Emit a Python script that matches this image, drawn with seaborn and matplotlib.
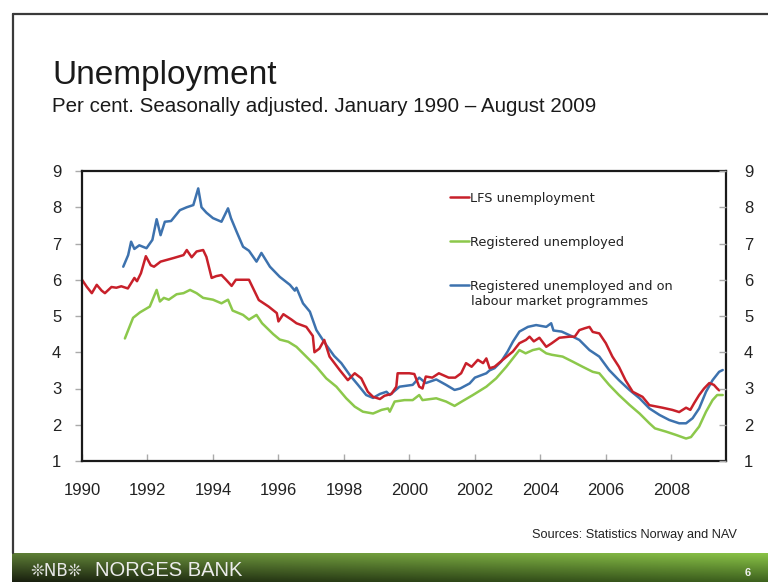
import numpy as np
import pandas as pd
import matplotlib
matplotlib.use("Agg")
import matplotlib.pyplot as plt
from matplotlib.lines import Line2D
import seaborn as sns

# Series (decimal year, per cent)
lfs_years = [1990.00, 1990.15, 1990.30, 1990.45, 1990.60, 1990.70, 1990.90, 1991.05, 1991.20, 1991.40,
             1991.60, 1991.68, 1991.80, 1991.95, 1992.10, 1992.20, 1992.40, 1992.60, 1992.80, 1993.10,
             1993.20, 1993.35, 1993.50, 1993.70, 1993.80, 1993.96, 1994.10, 1994.26, 1994.40, 1994.57,
             1994.70, 1995.00, 1995.10, 1995.40, 1995.70, 1995.95, 1996.00, 1996.15, 1996.40, 1996.55,
             1996.85, 1997.05, 1997.10, 1997.25, 1997.40, 1997.56, 1997.87, 1998.12, 1998.33, 1998.53,
             1998.73, 1998.89, 1999.10, 1999.24, 1999.45, 1999.60, 1999.64, 2000.00, 2000.15, 2000.30,
             2000.40, 2000.50, 2000.70, 2000.90, 2001.20, 2001.40, 2001.58, 2001.73, 2001.90, 2002.09,
             2002.25, 2002.35, 2002.45, 2002.60, 2002.85, 2003.16, 2003.36, 2003.56, 2003.67, 2003.80,
             2003.97, 2004.18, 2004.35, 2004.58, 2004.89, 2005.05, 2005.19, 2005.35, 2005.50, 2005.60,
             2005.80, 2006.00, 2006.20, 2006.40, 2006.60, 2006.82, 2007.12, 2007.33, 2007.73, 2008.03,
             2008.24, 2008.45, 2008.58, 2008.70, 2008.85, 2009.00, 2009.16, 2009.30, 2009.40, 2009.46]
lfs_values = [6.00, 5.80, 5.63, 5.86, 5.70, 5.63, 5.80, 5.78, 5.82, 5.76,
              6.05, 5.96, 6.18, 6.65, 6.40, 6.36, 6.50, 6.55, 6.60, 6.68,
              6.82, 6.62, 6.78, 6.82, 6.63, 6.05, 6.10, 6.13, 6.00, 5.83,
              6.00, 6.00, 6.00, 5.44, 5.26, 5.08, 4.85, 5.05, 4.90, 4.80,
              4.70, 4.45, 4.00, 4.10, 4.34, 3.88, 3.51, 3.23, 3.42, 3.28,
              2.91, 2.77, 2.71, 2.80, 2.85, 3.05, 3.42, 3.42, 3.40, 3.05,
              3.00, 3.33, 3.30, 3.42, 3.30, 3.30, 3.42, 3.70, 3.60, 3.79,
              3.70, 3.83, 3.56, 3.60, 3.79, 4.02, 4.25, 4.34, 4.43, 4.30,
              4.40, 4.15, 4.25, 4.40, 4.43, 4.43, 4.61, 4.66, 4.70, 4.56,
              4.52, 4.25, 3.88, 3.60, 3.23, 2.91, 2.77, 2.54, 2.47, 2.41,
              2.35, 2.47, 2.41, 2.60, 2.82, 3.00, 3.15, 3.10, 3.00, 2.95]

reg_years = [1991.31, 1991.45, 1991.56, 1991.77, 1992.07, 1992.28, 1992.38, 1992.50, 1992.65, 1992.89,
             1993.10, 1993.30, 1993.50, 1993.70, 1994.00, 1994.26, 1994.46, 1994.60, 1994.92, 1995.10,
             1995.33, 1995.50, 1995.84, 1996.04, 1996.30, 1996.55, 1996.85, 1997.16, 1997.46, 1997.77,
             1998.07, 1998.33, 1998.58, 1998.89, 1999.15, 1999.35, 1999.40, 1999.55, 1999.85, 2000.10,
             2000.30, 2000.40, 2000.82, 2001.12, 2001.38, 2001.60, 2001.94, 2002.35, 2002.65, 2002.96,
             2003.16, 2003.36, 2003.55, 2003.77, 2003.97, 2004.18, 2004.35, 2004.68, 2004.99, 2005.29,
             2005.60, 2005.80, 2006.10, 2006.40, 2006.72, 2007.03, 2007.33, 2007.50, 2007.84, 2008.14,
             2008.45, 2008.60, 2008.85, 2009.06, 2009.26, 2009.40, 2009.57]
reg_values = [4.38, 4.70, 4.95, 5.10, 5.26, 5.72, 5.40, 5.50, 5.45, 5.60,
              5.63, 5.72, 5.63, 5.50, 5.45, 5.35, 5.45, 5.15, 5.03, 4.90,
              5.03, 4.80, 4.50, 4.35, 4.29, 4.15, 3.88, 3.60, 3.28, 3.05,
              2.73, 2.50, 2.36, 2.31, 2.41, 2.45, 2.36, 2.64, 2.68, 2.68,
              2.82, 2.68, 2.73, 2.64, 2.52, 2.64, 2.82, 3.05, 3.28, 3.60,
              3.83, 4.06, 3.97, 4.06, 4.10, 3.97, 3.93, 3.88, 3.74, 3.60,
              3.46, 3.42, 3.10, 2.82, 2.55, 2.31, 2.04, 1.90, 1.81, 1.72,
              1.62, 1.66, 1.95, 2.36, 2.68, 2.82, 2.82]

prog_years = [1991.26, 1991.41, 1991.50, 1991.60, 1991.75, 1991.97, 1992.15, 1992.28, 1992.40, 1992.53,
              1992.72, 1992.99, 1993.20, 1993.40, 1993.55, 1993.65, 1993.80, 1994.00, 1994.26, 1994.46,
              1994.55, 1994.72, 1994.92, 1995.10, 1995.33, 1995.48, 1995.74, 1996.04, 1996.35, 1996.50,
              1996.55, 1996.75, 1996.96, 1997.16, 1997.46, 1997.70, 1997.92, 1998.18, 1998.43, 1998.68,
              1998.89, 1999.10, 1999.30, 1999.40, 1999.70, 2000.10, 2000.30, 2000.50, 2000.82, 2001.12,
              2001.38, 2001.55, 2001.84, 2002.00, 2002.35, 2002.45, 2002.60, 2002.80, 2003.00, 2003.16,
              2003.36, 2003.62, 2003.87, 2004.18, 2004.33, 2004.40, 2004.65, 2004.99, 2005.19, 2005.50,
              2005.80, 2006.10, 2006.40, 2006.72, 2007.03, 2007.33, 2007.64, 2007.94, 2008.24, 2008.45,
              2008.65, 2008.85, 2009.06, 2009.26, 2009.46, 2009.57]
prog_values = [6.36, 6.68, 7.05, 6.85, 6.95, 6.87, 7.10, 7.67, 7.23, 7.60,
               7.62, 7.92, 8.00, 8.06, 8.52, 8.00, 7.85, 7.70, 7.60, 7.97,
               7.70, 7.33, 6.91, 6.80, 6.50, 6.74, 6.36, 6.08, 5.86, 5.70,
               5.78, 5.35, 5.12, 4.61, 4.20, 3.90, 3.70, 3.37, 3.10, 2.82,
               2.74, 2.85, 2.91, 2.82, 3.05, 3.10, 3.30, 3.15, 3.25, 3.10,
               2.96, 3.00, 3.14, 3.30, 3.42, 3.50, 3.56, 3.74, 4.02, 4.29,
               4.57, 4.70, 4.75, 4.70, 4.80, 4.60, 4.57, 4.43, 4.34, 4.06,
               3.88, 3.51, 3.23, 2.96, 2.73, 2.45, 2.27, 2.13, 2.04, 2.04,
               2.18, 2.45, 2.91, 3.23, 3.46, 3.51]

series_names = ["LFS unemployment", "Registered unemployed",
                "Registered unemployed and on labour market programmes"]
legend_lines = ["LFS unemployment", "Registered unemployed", "Registered unemployed and on"]
legend_extra = "labour market programmes"
series_colors = ["#c8202a", "#8cc84b", "#3d72ae"]
x_ticks = [1990, 1992, 1994, 1996, 1998, 2000, 2002, 2004, 2006, 2008]
y_ticks = [1, 2, 3, 4, 5, 6, 7, 8, 9]

df = pd.concat([
    pd.DataFrame({"year": lfs_years, "value": lfs_values, "series": series_names[0]}),
    pd.DataFrame({"year": reg_years, "value": reg_values, "series": series_names[1]}),
    pd.DataFrame({"year": prog_years, "value": prog_values, "series": series_names[2]}),
], ignore_index=True)

sns.set_theme(style="white")
plt.rcParams["font.family"] = ["Liberation Sans", "DejaVu Sans"]

W, H = 768, 582
fig = plt.figure(figsize=(W / 100, H / 100), dpi=100)
fig.patch.set_facecolor("white")

left, right, top, bottom = 82, 726, 171, 461
ax = fig.add_axes([left / W, 1 - bottom / H, (right - left) / W, (bottom - top) / H])

palette = dict(zip(series_names, series_colors))
draw_order = [series_names[1], series_names[2], series_names[0]]
for name in draw_order:
    sns.lineplot(data=df[df["series"] == name], x="year", y="value", color=palette[name],
                 linewidth=1.8, sort=False, estimator=None, ax=ax, legend=False)

ax.set_xlim(1990, 2009.67)
ax.set_ylim(1, 9)
ax.set_xlabel("")
ax.set_ylabel("")
ax.set_xticks(x_ticks)
ax.set_xticklabels([str(t) for t in x_ticks])
ax.set_yticks(y_ticks)
for s in ax.spines.values():
    s.set_visible(True)
    s.set_color("#1a1a1a")
    s.set_linewidth(1.6)
ax.tick_params(axis="x", direction="in", length=5, width=1, color="#aaaaaa",
               labelsize=12, labelcolor="#222222", pad=16, bottom=True)
ax.tick_params(axis="y", direction="out", length=5, width=1, color="#aaaaaa",
               labelsize=12, labelcolor="#222222", pad=10, left=True)

ax2 = ax.twinx()
ax2.set_ylim(1, 9)
ax2.set_yticks(y_ticks)
ax2.tick_params(axis="y", direction="in", length=5, width=1, color="#aaaaaa",
                labelsize=12, labelcolor="#222222", pad=13, right=True)
for s in ax2.spines.values():
    s.set_visible(False)
ax2.grid(False)
ax.grid(False)

# Legend: short line keys, labels set to the right
handles = [Line2D([], [], color=c, linewidth=1.8) for c in series_colors]
leg = ax.legend(handles, legend_lines, loc="upper left", bbox_to_anchor=(0.571, 0.928),
                frameon=False, handlelength=1.5, handletextpad=0.05,
                labelspacing=2.4, borderpad=0, borderaxespad=0,
                prop={"family": "DejaVu Sans", "size": 9.3})
for t in leg.get_texts():
    t.set_color("#222222")
fig.text(471 / W, 1 - 302 / H, legend_extra, fontsize=9.3, family="DejaVu Sans",
         color="#222222", va="center")

# Title block
fig.text(52 / W, 1 - 84 / H, "Unemployment", fontsize=24, color="#1a1a1a", va="baseline")
fig.text(52 / W, 1 - 112 / H, "Per cent. Seasonally adjusted. January 1990 \u2013 August 2009",
         fontsize=14.8, color="#1a1a1a", va="baseline")
fig.text(737 / W, 1 - 535 / H, "Sources: Statistics Norway and NAV", fontsize=9.2,
         color="#222222", ha="right", va="center")

# Slide frame
fig.add_artist(Line2D([12.5 / W, 12.5 / W], [1 - 14 / H, 1 - 553 / H], color="#3a3a3a",
                      linewidth=1.6, transform=fig.transFigure))
fig.add_artist(Line2D([12.5 / W, 1.0], [1 - 14 / H, 1 - 14 / H], color="#3a3a3a",
                      linewidth=1.6, transform=fig.transFigure))

# Footer band with green gradient
fax = fig.add_axes([12 / W, 0, 1 - 12 / W, 29 / H])
s = np.linspace(0, 1, 200)[None, :, None]
t = np.linspace(0, 1, 30)[:, None, None]
lt = np.array([95, 128, 55]) / 255
rt = np.array([140, 198, 72]) / 255
lb = np.array([25, 32, 15]) / 255
rb = np.array([62, 98, 30]) / 255
top_row = lt * (1 - s) + rt * s
bot_row = lb * (1 - s) + rb * s
grad = np.clip(top_row * (1 - t) + bot_row * t, 0, 1)
fax.imshow(grad, aspect="auto", extent=[0, 1, 0, 1], origin="upper")
fax.set_axis_off()
fig.text(30 / W, 1 - 571 / H, "\u274aNB\u274a", fontsize=12, color="#e6e6e6", va="center",
         family=["DejaVu Sans"])
fig.text(95 / W, 1 - 571 / H, "NORGES BANK", fontsize=14.5, color="#ececec", va="center")
fig.text(748 / W, 1 - 573 / H, "6", fontsize=8, color="#f0f0f0", va="center", ha="center",
         fontweight="bold")

fig.savefig("out.png", dpi=100)
